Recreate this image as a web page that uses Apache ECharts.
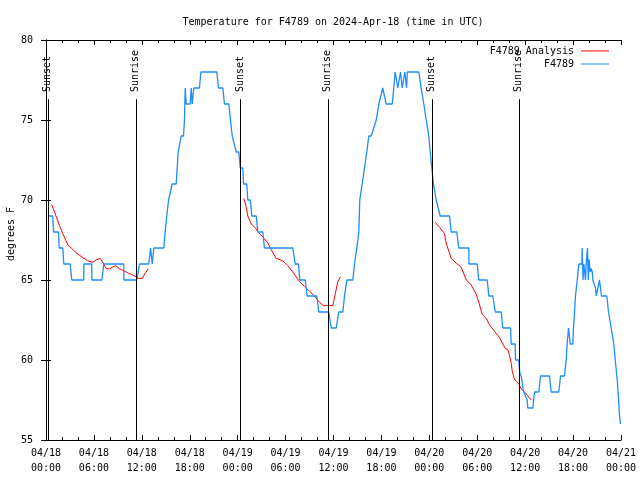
<!DOCTYPE html>
<html><head><meta charset="utf-8">
<script src="https://cdn.jsdelivr.net/npm/echarts@6/dist/echarts.min.js"></script>
<style>html,body{margin:0;padding:0;background:#fff}#c{width:640px;height:480px}</style>
</head><body><div id="c"></div>
<script>
// ---------- data ----------
const titleText = 'Temperature for F4789 on 2024-Apr-18 (time in UTC)';
const yAxisName = 'degrees F';
const tickDates = ['04/18','04/18','04/18','04/18','04/19','04/19','04/19','04/19','04/20','04/20','04/20','04/20','04/21'];
const tickTimes = ['00:00','06:00','12:00','18:00','00:00','06:00','12:00','18:00','00:00','06:00','12:00','18:00','00:00'];
// hours since 04/18 00:00 UTC
const sunHours = [0.23, 11.24, 24.32, 35.29, 48.31, 59.2];
const sunNames = ['Sunset','Sunrise','Sunset','Sunrise','Sunset','Sunrise'];
const sunLineTop = 76.3;   // value where the marker lines stop
const sunLabelBase = 76.75; // value where the marker text begins

const observed = [
[0.23,69],[0.85,69],[0.94,68],[1.57,68],[1.65,67],[2.1,67],[2.23,66],[3.03,66],[3.23,65],[4.72,65],[4.75,66],[5.72,66],[5.75,65],[6.99,65],[7.24,66],[9.73,66],[9.76,65],[11.37,65],[11.71,66],[12.87,66],[13.09,67],[13.3,66],[13.5,67],[14.75,67],
[14.92,68],[15.12,69],[15.35,70],[15.8,71],[16.3,71],[16.43,72],[16.55,73],[16.72,73],[16.93,74],[17.22,74],[17.34,75],[17.43,77],[17.55,76],[18.06,76],[18.18,77],[18.31,76],[18.43,76],[18.51,77],[19.22,77],[19.39,78],[21.39,78],[21.6,77],[22.14,77],[22.35,76],[22.89,76],[23.1,75],[23.32,74],[23.52,74],[23.82,73],[24.14,73],[24.32,72],[24.64,72],[24.73,71],[25.14,71],[25.27,70],[25.57,70],[25.77,69],[26.32,69],[26.52,68],[27.15,68],[27.35,67],
[30.9,67],[31.2,66],[31.62,66],[31.78,65],[32.46,65],[32.71,64],[33.91,64],[34.16,63],[35.41,63],[35.71,62],[36.34,62],[36.66,63],[37.17,63],[37.38,64],[37.67,65],[38.42,65],[38.63,66],[38.92,67],[39.17,68],[39.29,70],[39.59,71],[39.76,71],[39.88,72],[40.17,73],[40.42,74],[40.72,74],[41.35,75],[41.68,76],[42.17,77],[42.38,77],[42.6,76],[43.35,76],[43.55,77],[43.73,78],[43.9,78],[44.05,77],[44.26,77],[44.39,78],[44.5,78],[44.6,77],[44.8,77],[44.93,78],[45.05,78],[45.15,77],[45.25,78],[46.68,78],[46.98,77],[47.18,77],[47.31,76],[47.61,75],[47.93,74],[48.11,73],[48.31,72],[48.52,71],[48.86,70],[49.1,70],[49.36,69],[50.53,69],[50.74,68],[51.44,68],[51.69,67],[52.94,67],[52.97,66],[53.99,66],[54.19,65],[55.25,65],[55.45,64],[55.95,64],[56.25,63],[57.0,63],[57.2,62],[58.17,62],[58.25,61],[58.75,61],[58.79,60],[59.2,60],[59.33,59.2],[59.5,59],[59.74,58.2],[59.82,58],[60.25,57.5],[60.33,57],[60.96,57],[61.17,58],[61.71,58],[61.92,59],[63.05,59],[63.26,58],[64.21,58],[64.43,59],[64.93,59],[65.05,59.6],[65.14,60],[65.26,61],[65.43,62],[65.52,62],[65.64,61],[65.97,61],[66.05,62],[66.18,63],[66.3,64],[66.4,64],[66.52,65],[66.65,65],[66.72,66],[67.1,66],[67.14,67],[67.25,65],[67.35,66],[67.47,66],[67.55,65],[67.64,66],[67.8,67],[67.9,65],[68.0,66.3],[68.14,65.5],[68.27,65.7],[68.4,65.5],[68.47,65],[68.7,65],[68.81,64.5],[68.9,64],[69.02,64],[69.1,64.5],[69.31,65],[69.43,64.5],[69.55,64],[70.22,64],[70.44,63],[70.65,63],[70.77,62],[70.97,62],[71.1,61],[71.28,60],[71.53,58.75],[71.7,57.5],[71.82,56.5],[71.94,56]
];

const analysis1 = [[0.73,69.7],[1.28,68.96],[1.69,68.4],[2.1,67.9],[2.73,67.2],[3.16,67.0],[3.78,66.7],[4.61,66.4],[5.23,66.2],[5.79,66.1],[6.29,66.25],[6.79,66.35],[7.11,66.1],[7.54,65.7],[7.95,65.7],[8.7,65.9],[9.2,65.7],[10.04,65.5],[10.87,65.3],[11.29,65.2],[11.62,65.1],[12.05,65.1],[12.46,65.45],[12.83,65.7]];
const analysis2 = [[24.77,70.1],[25.05,69.6],[25.27,69.0],[25.7,68.5],[26.32,68.2],[26.52,68.0],[27.15,67.7],[27.78,67.3],[28.2,66.9],[28.82,66.35],[29.65,66.2],[30.28,65.9],[30.9,65.5],[31.74,64.9],[32.37,64.6],[32.99,64.3],[33.62,64.0],[34.25,63.6],[34.75,63.4],[35.92,63.4],[36.25,64.2],[36.54,64.9],[36.87,65.2]];
const analysis3 = [[48.77,68.6],[49.27,68.3],[49.9,67.9],[50.11,67.3],[50.74,66.35],[51.37,66.05],[51.99,65.8],[52.62,65.0],[53.24,64.7],[53.87,64.1],[54.2,63.6],[54.62,62.85],[55.12,62.6],[55.53,62.2],[56.16,61.8],[56.79,61.4],[57.2,61.0],[57.54,60.7],[57.83,60.65],[58.04,60.3],[58.25,59.8],[58.38,59.3],[58.66,58.8],[58.95,58.65],[59.2,58.5],[59.5,58.2],[59.92,58.0],[60.33,57.75],[60.76,57.5]];

// ---------- chart ----------
const FONT = 'DejaVu Sans Mono';
const RED = '#ff0000', BLUE = '#1e8cff';
const chart = echarts.init(document.getElementById('c'), null, {renderer: 'canvas'});

const axisCommon = {
  axisLine: {show: true, lineStyle: {color: '#000', width: 1}},
  axisTick: {show: true, inside: true, length: 5, lineStyle: {color: '#000'}},
  splitLine: {show: false}
};
const xBase = Object.assign({}, axisCommon, {
  type: 'value', min: 0, max: 72, interval: 6,
  minorTick: {show: true, splitNumber: 3, length: 3, lineStyle: {color: '#000'}},
  minorSplitLine: {show: false}
});
const yBase = Object.assign({}, axisCommon, {type: 'value', min: 55, max: 80, interval: 5});

const markData = [];
sunHours.forEach((h, i) => {
  markData.push([
    {coord: [h, 55], lineStyle: {color: '#000', width: 1, type: 'solid'}, label: {show: false}},
    {coord: [h, sunLineTop]}
  ]);
  markData.push([
    {coord: [h, sunLabelBase], lineStyle: {color: 'rgba(0,0,0,0)', width: 1, type: 'solid'},
     label: {show: true, position: 'insideStart', distance: 0, formatter: sunNames[i],
             color: '#000', fontFamily: FONT, fontSize: 10}},
    {coord: [h, 80]}
  ]);
});

const lineSeries = (name, data, color, width) => ({
  name, type: 'line', data, symbol: 'none', showSymbol: false,
  lineStyle: {color, width}, itemStyle: {color}, animation: false,
  xAxisIndex: 0, yAxisIndex: 0, z: 3
});

const option = {
  animation: false,
  backgroundColor: '#fff',
  textStyle: {fontFamily: FONT},
  title: {
    text: titleText, left: 328, top: 12, textAlign: 'center',
    textStyle: {fontFamily: FONT, fontSize: 10, fontWeight: 'normal', color: '#000'}
  },
  legend: {
    data: [{name: 'F4789 Analysis', icon: 'rect'}, {name: 'F4789', icon: 'rect'}],
    orient: 'vertical', right: 26, top: 41, align: 'right',
    itemWidth: 28, itemHeight: 1, itemGap: 3,
    textStyle: {fontFamily: FONT, fontSize: 10, color: '#000', padding: [0, 2, 0, 0]},
    selectedMode: false
  },
  grid: {left: 46, right: 19, top: 40, bottom: 40, containLabel: false, outerBoundsMode: 'none'},
  xAxis: [
    Object.assign({}, xBase, {
      position: 'bottom',
      axisLabel: {
        show: true, margin: 6, color: '#000', fontFamily: FONT, fontSize: 10, lineHeight: 15,
        showMinLabel: true, showMaxLabel: true, hideOverlap: false,
        formatter: v => { const i = Math.round(v / 6); return tickDates[i] + '\n' + tickTimes[i]; }
      }
    }),
    Object.assign({}, xBase, {position: 'top', axisLabel: {show: false}})
  ],
  yAxis: [
    Object.assign({}, yBase, {
      position: 'left',
      name: yAxisName, nameLocation: 'middle', nameGap: 30, nameRotate: 90, nameMoveOverlap: false,
      nameTextStyle: {fontFamily: FONT, fontSize: 10, color: '#000', padding: [0, 0, 0, 12]},
      axisLabel: {show: true, margin: 13, color: '#000', fontFamily: FONT, fontSize: 10}
    }),
    Object.assign({}, yBase, {position: 'right', axisLabel: {show: false}})
  ],
  series: [
    lineSeries('F4789 Analysis', analysis1, RED, 1),
    lineSeries('F4789 Analysis', analysis2, RED, 1),
    lineSeries('F4789 Analysis', analysis3, RED, 1),
    Object.assign(lineSeries('F4789', observed, BLUE, 1.3), {
      markLine: {silent: true, symbol: ['none', 'none'], animation: false, data: markData}
    })
  ]
};
chart.setOption(option);
</script>
</body></html>
